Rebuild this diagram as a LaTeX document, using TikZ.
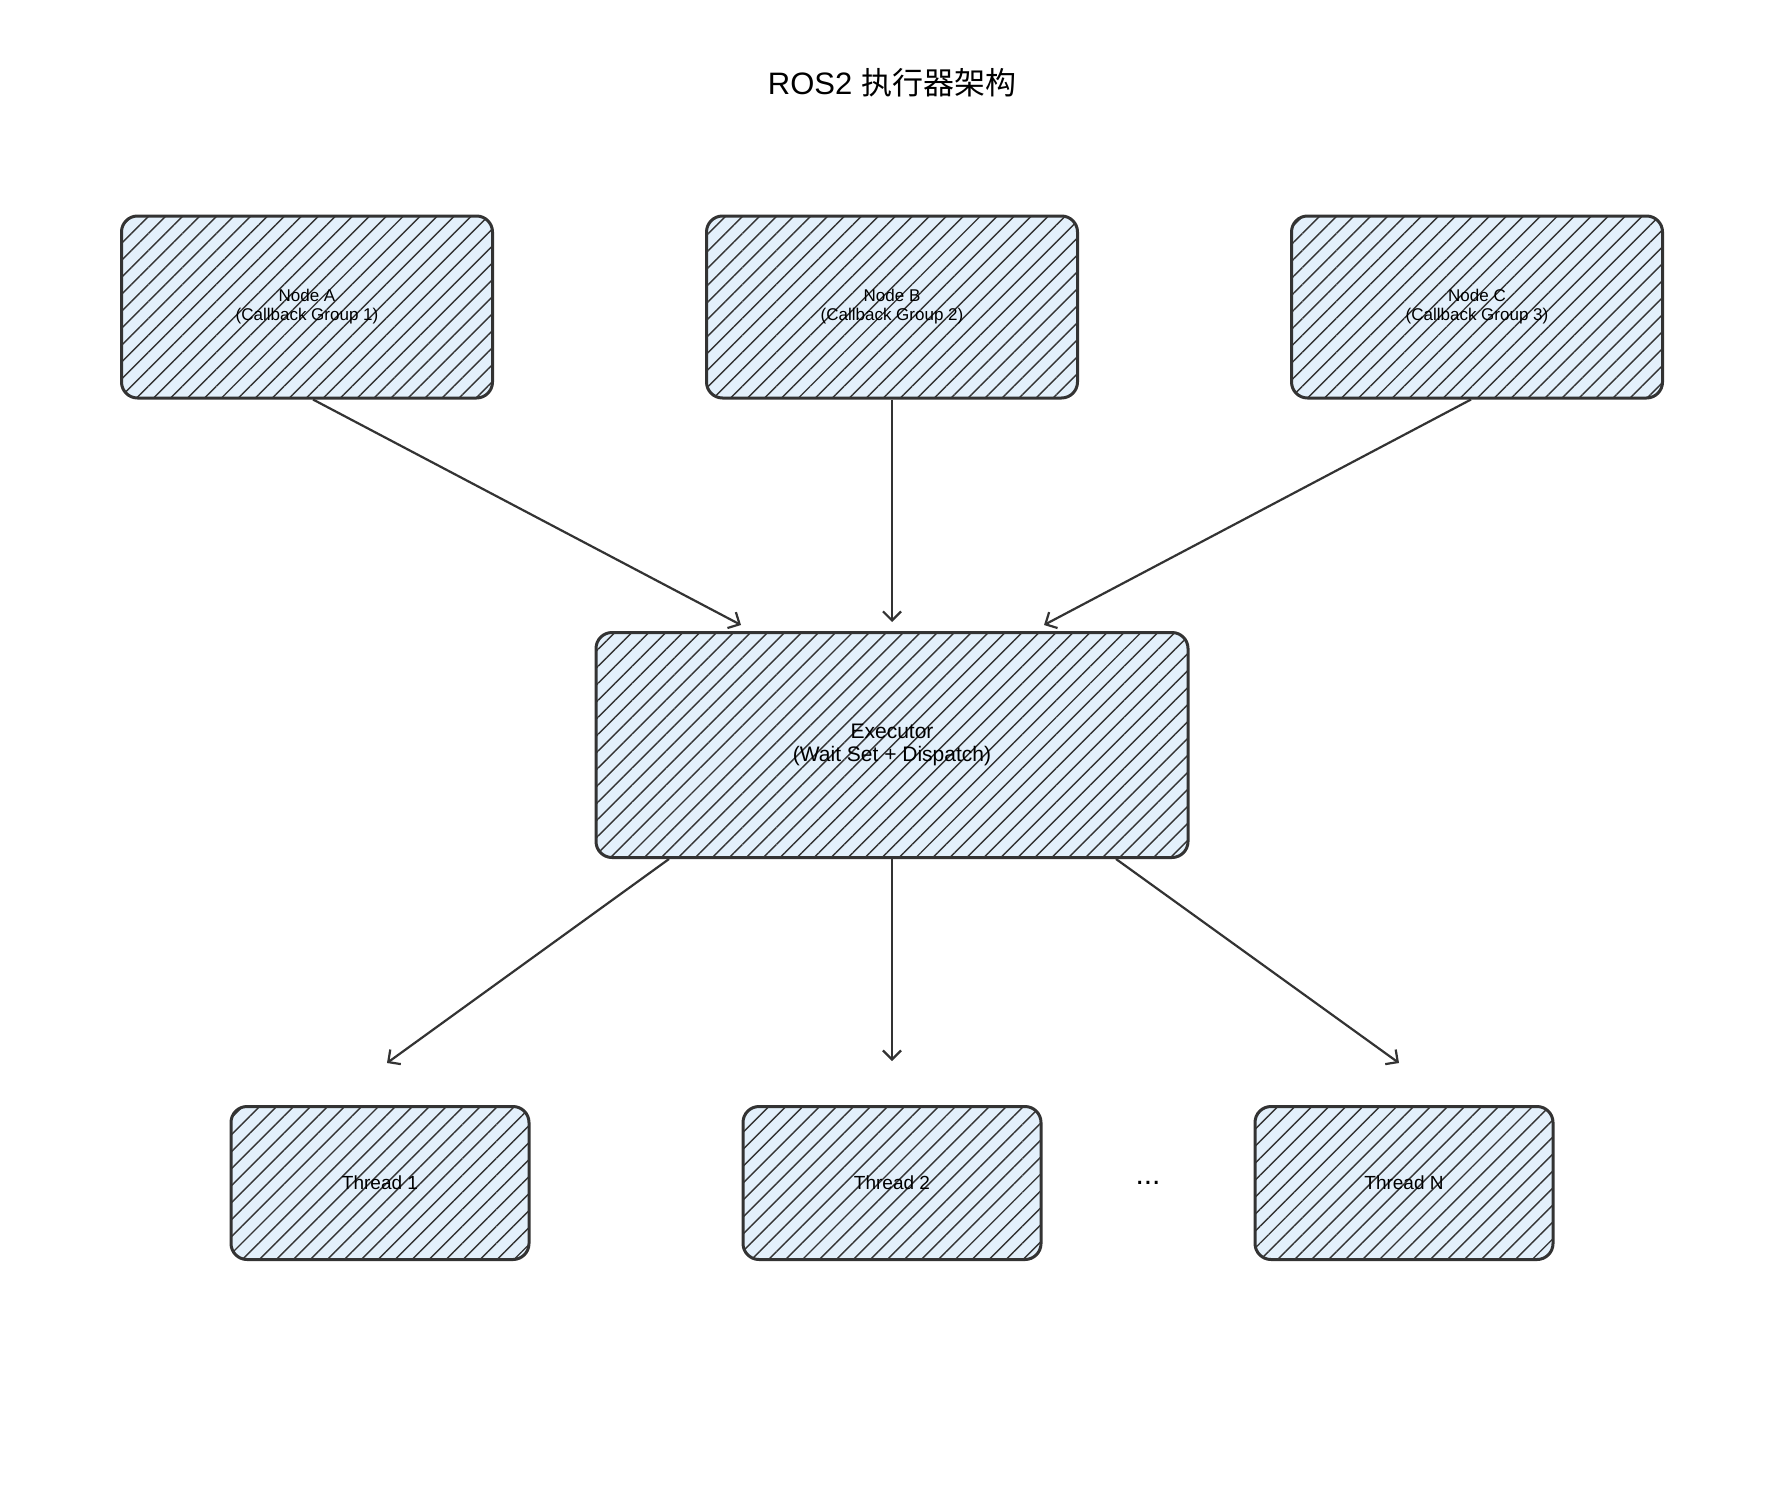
\documentclass[tikz,border=0pt]{standalone}
\usepackage{fontspec}
\setmainfont{Liberation Sans}
\newfontfamily\cjk{Noto Sans CJK SC}
\usetikzlibrary{arrows.meta, patterns.meta, positioning}
\definecolor{boxfill}{RGB}{227, 240, 251}
\definecolor{linecolor}{RGB}{51, 51, 51}

\begin{document}
\begin{tikzpicture}[
    x=1pt, y=-1pt,
    box/.style={draw=linecolor, line width=3pt, rounded corners=16pt, fill=boxfill, align=center,
        postaction={pattern={Lines[angle=45, distance=12pt, line width=1.4pt]}, pattern color=linecolor}},
    srcnode/.style={box, minimum width=371pt, minimum height=182pt, font=\fontsize{17}{19}\selectfont},
    thread/.style={box, minimum width=298pt, minimum height=153pt, font=\fontsize{19}{21}\selectfont},
    arrow/.style={-{Straight Barb[length=9pt, width=18pt]}, line width=2.2pt, draw=linecolor}
]
    \useasboundingbox (0,0) rectangle (1776,1485);
    \node[font=\fontsize{31}{34}\selectfont] (title) at (892,83) {ROS2 {\cjk 执行器架构}};

    \node[srcnode] (nodeA) at (307,307) {Node A\\(Callback Group 1)};
    \node[srcnode] (nodeB) at (892,307) {Node B\\(Callback Group 2)};
    \node[srcnode] (nodeC) at (1477,307) {Node C\\(Callback Group 3)};

    \node[box, minimum width=592pt, minimum height=225pt, font=\fontsize{21}{23}\selectfont] (exec) at (892,745) {Executor\\(Wait Set + Dispatch)};

    \node[thread] (t1) at (380,1183) {Thread 1};
    \node[thread] (t2) at (892,1183) {Thread 2};
    \node[thread] (tN) at (1404,1183) {Thread N};
    \node[font=\fontsize{30}{32}\selectfont] (dots) at (1148,1183) {...};

    % arrow ends
    \coordinate (inA) at (741,625);
    \coordinate (inB) at (892,622);
    \coordinate (inC) at (1044,625);
    \coordinate (out1) at (387,1063);
    \coordinate (out2) at (892,1061);
    \coordinate (outN) at (1399,1063);

    \draw[arrow] (nodeA.south) ++(6,0) -- (inA);
    \draw[arrow] (nodeB.south) -- (inB);
    \draw[arrow] (nodeC.south) ++(-6,0) -- (inC);
    \draw[arrow] (exec.south) ++(-223,0) -- (out1);
    \draw[arrow] (exec.south) -- (out2);
    \draw[arrow] (exec.south) ++(224,0) -- (outN);
\end{tikzpicture}
\end{document}
